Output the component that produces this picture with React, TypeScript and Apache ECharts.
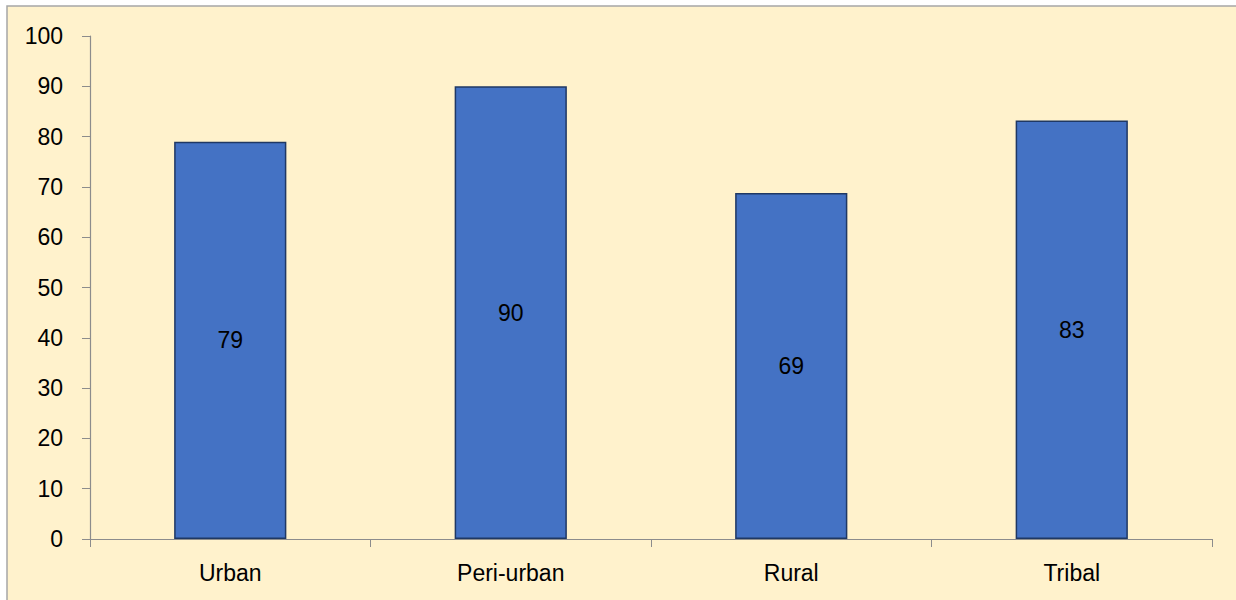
import React, { useEffect, useRef } from "react";
import * as echarts from "echarts";

const categories = ["Urban", "Peri-urban", "Rural", "Tribal"];
const values = [79, 90, 68.8, 83.2];
const valueLabels = ["79", "90", "69", "83"];
const yTicks = [0, 10, 20, 30, 40, 50, 60, 70, 80, 90, 100];

export default function App() {
  const ref = useRef<HTMLDivElement>(null);
  useEffect(() => {
    document.body.style.margin = "0";
    const chart = echarts.init(ref.current!, undefined, { renderer: "svg" });
    const font = "'Liberation Sans', Arial, sans-serif";
    chart.setOption({
      animation: false,
      backgroundColor: "#ffffff",
      graphic: [
        {
          type: "rect",
          z: -10,
          silent: true,
          shape: { x: 7, y: 6, width: 1240, height: 600 },
          style: { fill: "#FFF2CC", stroke: "#A6A6A6", lineWidth: 1.5 },
        },
      ],
      grid: { left: 90, right: 24, top: 36, bottom: 61 },
      xAxis: {
        type: "category",
        data: categories,
        axisLine: { lineStyle: { color: "#8C8C8C", width: 1.2 } },
        axisTick: { show: true, length: 8, lineStyle: { color: "#8C8C8C" } },
        axisLabel: { color: "#000", fontSize: 23, fontFamily: font, margin: 22 },
      },
      yAxis: {
        type: "value",
        min: yTicks[0],
        max: yTicks[yTicks.length - 1],
        interval: 10,
        axisLine: { show: true, lineStyle: { color: "#8C8C8C", width: 1.2 } },
        axisTick: { show: true, length: 8, lineStyle: { color: "#8C8C8C" } },
        splitLine: { show: false },
        axisLabel: { color: "#000", fontSize: 23, fontFamily: font, margin: 27 },
      },
      series: [
        {
          type: "bar",
          data: values,
          barWidth: "40%",
          itemStyle: { color: "#4472C4", borderColor: "#1F3864", borderWidth: 1.5 },
          label: {
            show: true,
            position: "inside",
            color: "#000",
            fontSize: 23,
            fontFamily: font,
            formatter: (p: any) => valueLabels[p.dataIndex],
          },
        },
      ],
    });
    return () => chart.dispose();
  }, []);
  return <div ref={ref} style={{ width: 1236, height: 600 }} />;
}
